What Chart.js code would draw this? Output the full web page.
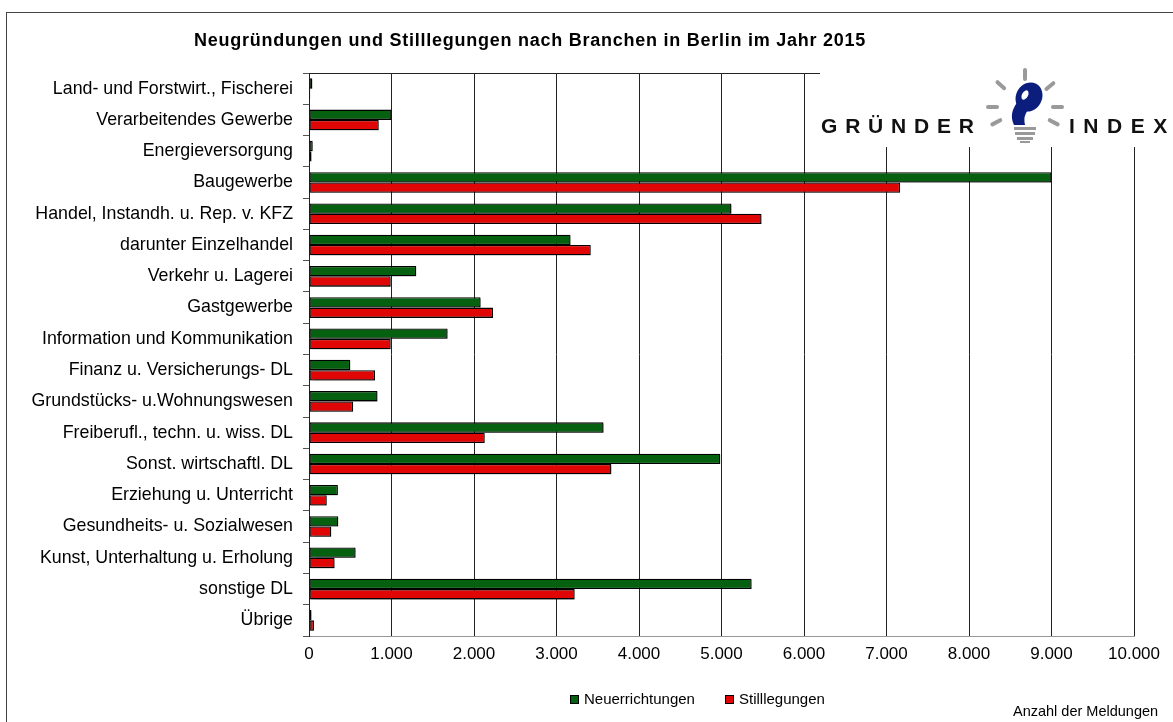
<!DOCTYPE html>
<html lang="de">
<head>
    <meta charset="UTF-8">
    <title>Neugründungen und Stilllegungen nach Branchen in Berlin 2015</title>
    <script src="https://cdn.jsdelivr.net/npm/chart.js"></script>
    <style>
        html, body {
            margin: 0;
            padding: 0;
            background: #fff;
        }
        #wrap {
            width: 1173px;
            height: 722px;
        }
    </style>
</head>
<body>
    <div id="wrap"><canvas id="chart"></canvas></div>

    <script>
        // Branchen (Reihenfolge von oben nach unten)
        const categories = [
            'Land- und Forstwirt., Fischerei',
            'Verarbeitendes Gewerbe',
            'Energieversorgung',
            'Baugewerbe',
            'Handel, Instandh. u. Rep. v. KFZ',
            'darunter Einzelhandel',
            'Verkehr u. Lagerei',
            'Gastgewerbe',
            'Information und Kommunikation',
            'Finanz u. Versicherungs- DL',
            'Grundstücks- u.Wohnungswesen',
            'Freiberufl., techn. u. wiss. DL',
            'Sonst. wirtschaftl. DL',
            'Erziehung u. Unterricht',
            'Gesundheits- u. Sozialwesen',
            'Kunst, Unterhaltung u. Erholung',
            'sonstige DL',
            'Übrige'
        ];

        const neuerrichtungen = [40, 1000, 45, 9000, 5120, 3170, 1300, 2080, 1680, 500, 830, 3570, 4985, 350, 355, 565, 5365, 30];
        const stilllegungen   = [15, 845, 30, 7165, 5485, 3415, 990, 2230, 990, 800, 535, 2130, 3665, 215, 270, 310, 3220, 60];

        const xTicks = [0, 1000, 2000, 3000, 4000, 5000, 6000, 7000, 8000, 9000, 10000];

        const titleText = 'Neugründungen und Stilllegungen nach Branchen in Berlin im Jahr 2015';
        const footText = 'Anzahl der Meldungen';

        const GREEN = '#05600f';
        const RED = '#e00606';
        const FONT = '"Liberation Sans", Arial, sans-serif';

        function fmt(v) {
            return String(v).replace(/\B(?=(\d{3})+(?!\d))/g, '.');
        }

        // grey drop shadow under the bars
        const barShadow = {
            id: 'barShadow',
            beforeDatasetsDraw(chart) {
                const ctx = chart.ctx;
                ctx.save();
                ctx.shadowColor = 'rgba(0,0,0,0.3)';
                ctx.shadowOffsetX = 1.5;
                ctx.shadowOffsetY = 1.5;
                ctx.shadowBlur = 1;
            },
            afterDatasetsDraw(chart) {
                chart.ctx.restore();
            }
        };

        // draws frame, title, legend, footnote and the logo
        const decor = {
            id: 'decor',
            beforeDraw(chart) {
                const ctx = chart.ctx;
                ctx.save();
                ctx.fillStyle = '#fff';
                ctx.fillRect(0, 0, chart.width, chart.height);
                ctx.strokeStyle = '#444';
                ctx.lineWidth = 1;
                ctx.strokeRect(6.5, 12.5, 1300, 900);
                ctx.restore();
            },
            afterDraw(chart) {
                const ctx = chart.ctx;
                const area = chart.chartArea;
                ctx.save();

                // logo area hides the upper right grid
                ctx.fillStyle = '#fff';
                ctx.fillRect(812, 60, 361, 87);

                // top border of plot area
                ctx.strokeStyle = '#222';
                ctx.beginPath();
                ctx.moveTo(area.left, area.top + 0.5);
                ctx.lineTo(820, area.top + 0.5);
                ctx.stroke();

                // title
                ctx.fillStyle = '#000';
                ctx.font = 'bold 18px ' + FONT;
                ctx.textAlign = 'left';
                ctx.textBaseline = 'alphabetic';
                ctx.letterSpacing = '0.75px';
                ctx.fillText(titleText, 194, 46);
                ctx.letterSpacing = '0px';

                // legend
                ctx.font = '15px ' + FONT;
                ctx.textBaseline = 'middle';
                const legendX = [570, 725];
                chart.data.datasets.forEach((ds, i) => {
                    const x = legendX[i];
                    ctx.fillStyle = ds.backgroundColor;
                    ctx.fillRect(x, 695, 8, 8);
                    ctx.strokeStyle = '#000';
                    ctx.strokeRect(x + 0.5, 695.5, 8, 8);
                    ctx.fillStyle = '#000';
                    ctx.fillText(ds.label, x + 14, 699.5);
                });

                // footnote
                ctx.font = '14.5px ' + FONT;
                ctx.textBaseline = 'alphabetic';
                ctx.fillText(footText, 1013, 716);

                drawLogo(ctx);
                ctx.restore();
            }
        };

        function drawLogo(ctx) {
            ctx.save();
            ctx.fillStyle = '#111';
            ctx.font = 'bold 21px ' + FONT;
            ctx.textBaseline = 'alphabetic';
            ctx.textAlign = 'left';
            let x = 821;
            for (const c of 'GRÜNDER') {
                ctx.fillText(c, x, 133);
                x += ctx.measureText(c).width + 7.8;
            }
            x = 1069;
            for (const c of 'INDEX') {
                ctx.fillText(c, x, 133);
                x += ctx.measureText(c).width + 8.5;
            }

            // light bulb rays
            const cx = 1025, cy = 107;
            ctx.strokeStyle = '#9a9a9a';
            ctx.lineWidth = 4;
            ctx.lineCap = 'round';
            [-90, -138, -40, 180, 0, 152, 28].forEach(a => {
                const r = a * Math.PI / 180;
                ctx.beginPath();
                ctx.moveTo(cx + Math.cos(r) * 28, cy + Math.sin(r) * 28);
                ctx.lineTo(cx + Math.cos(r) * 37, cy + Math.sin(r) * 37);
                ctx.stroke();
            });

            // bulb body
            ctx.fillStyle = '#0b1e7e';
            ctx.beginPath();
            ctx.ellipse(1029, 97, 13, 15, 0.5, 0, Math.PI * 2);
            ctx.fill();
            ctx.beginPath();
            ctx.moveTo(1019, 100);
            ctx.quadraticCurveTo(1008, 113, 1014, 125);
            ctx.lineTo(1025, 125);
            ctx.quadraticCurveTo(1022, 113, 1033, 106);
            ctx.closePath();
            ctx.fill();
            ctx.fillStyle = '#fff';
            ctx.beginPath();
            ctx.ellipse(1025, 95, 3, 5, 0.5, 0, Math.PI * 2);
            ctx.fill();

            // bulb base
            ctx.fillStyle = '#9a9a9a';
            ctx.fillRect(1014, 127, 22, 3);
            ctx.fillRect(1015, 132, 20, 3);
            ctx.fillRect(1017, 137, 16, 3);
            ctx.fillRect(1020, 141, 10, 2);
            ctx.restore();
        }

        const ctx = document.getElementById('chart').getContext('2d');
        new Chart(ctx, {
            type: 'bar',
            data: {
                labels: categories,
                datasets: [
                    {
                        label: 'Neuerrichtungen',
                        data: neuerrichtungen,
                        backgroundColor: GREEN,
                        borderColor: '#000',
                        borderWidth: 1.3,
                        borderSkipped: false
                    },
                    {
                        label: 'Stilllegungen',
                        data: stilllegungen,
                        backgroundColor: RED,
                        borderColor: '#000',
                        borderWidth: 1.3,
                        borderSkipped: false
                    }
                ]
            },
            options: {
                indexAxis: 'y',
                responsive: true,
                maintainAspectRatio: false,
                animation: false,
                events: [],
                datasets: {
                    bar: {
                        categoryPercentage: 0.66,
                        barPercentage: 1.0
                    }
                },
                layout: {
                    padding: { top: 73, right: 39, bottom: 56, left: 0 }
                },
                plugins: {
                    legend: { display: false },
                    title: { display: false },
                    tooltip: { enabled: false }
                },
                scales: {
                    x: {
                        type: 'linear',
                        min: 0,
                        max: 10000,
                        afterBuildTicks: scale => {
                            scale.ticks = xTicks.map(v => ({ value: v }));
                        },
                        afterFit: scale => { scale.height = 30; },
                        grid: {
                            color: '#222',
                            lineWidth: 1,
                            drawTicks: false
                        },
                        border: { color: '#999', width: 1 },
                        ticks: {
                            padding: 8,
                            color: '#000',
                            font: { family: FONT, size: 17 },
                            callback: v => fmt(v)
                        }
                    },
                    y: {
                        afterFit: scale => { scale.width = 309; },
                        grid: {
                            drawOnChartArea: false,
                            offset: true,
                            tickLength: 6,
                            color: '#555'
                        },
                        border: { color: '#222', width: 1 },
                        ticks: {
                            padding: 10,
                            color: '#000',
                            font: { family: FONT, size: 17.8 },
                            autoSkip: false
                        }
                    }
                }
            },
            plugins: [barShadow, decor]
        });
    </script>
</body>
</html>
